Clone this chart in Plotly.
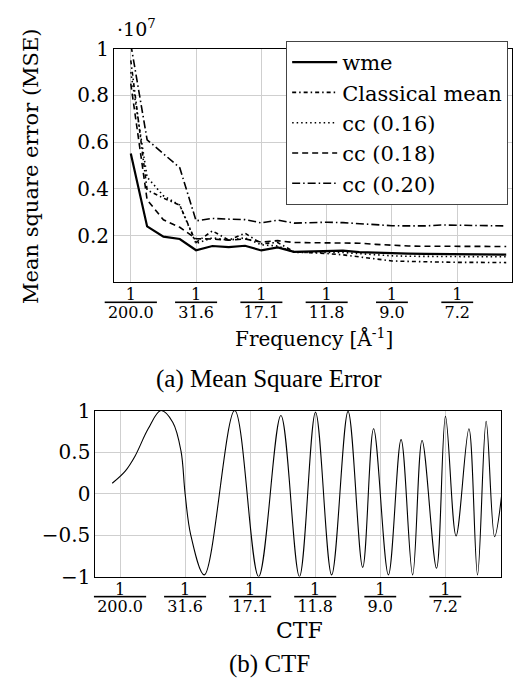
import plotly.graph_objects as go

W, H = 517, 686
FONT = "DejaVu Serif"
CAPFONT = "Liberation Serif"

# ---------------- data: (a) Mean Square Error (values in units of 1e7) ----------------
shell = list(range(24))
wme = [0.551, 0.239, 0.195, 0.185, 0.137, 0.155, 0.150, 0.156, 0.136, 0.149, 0.130, 0.131,
       0.132, 0.135, 0.129, 0.126, 0.123, 0.122, 0.121, 0.120, 0.120, 0.119, 0.119, 0.118]
classical = [0.95, 0.395, 0.36, 0.33, 0.17, 0.22, 0.18, 0.21, 0.165, 0.17, 0.13, 0.128,
             0.123, 0.117, 0.109, 0.098, 0.091, 0.089, 0.087, 0.086, 0.085, 0.085, 0.084, 0.084]
cc16 = [0.90, 0.45, 0.37, 0.33, 0.165, 0.19, 0.18, 0.19, 0.16, 0.155, 0.128, 0.126,
        0.127, 0.127, 0.122, 0.118, 0.113, 0.111, 0.110, 0.110, 0.109, 0.109, 0.109, 0.109]
cc18 = [0.85, 0.353, 0.267, 0.235, 0.186, 0.185, 0.18, 0.185, 0.172, 0.178, 0.17, 0.17,
        0.17, 0.17, 0.167, 0.162, 0.157, 0.155, 0.154, 0.154, 0.153, 0.153, 0.153, 0.153]
cc20 = [1.02, 0.61, 0.55, 0.49, 0.263, 0.273, 0.270, 0.268, 0.254, 0.266, 0.253, 0.255,
        0.257, 0.255, 0.250, 0.245, 0.242, 0.241, 0.241, 0.245, 0.245, 0.243, 0.242, 0.241]

series_names = ["wme", "Classical mean", "cc (0.16)", "cc (0.18)", "cc (0.20)"]

# x tick labels (shell index -> 1/resolution)
tick_pos = [0, 4, 8, 12, 16, 20]
tick_nums = ["1", "1", "1", "1", "1", "1"]
tick_denoms = ["200.0", "31.6", "17.1", "11.8", "9.0", "7.2"]

mse_yticks = [0.2, 0.4, 0.6, 0.8, 1.0]
mse_yticklabels = ["0.2", "0.4", "0.6", "0.8", "1"]

# ---------------- data: (b) CTF (read extrema / shape points) ----------------
ctf_x = [-0.48, 0.32, 0.92, 1.73, 2.51, 3.24, 3.75, 4.0, 4.35, 5.18, 7.05, 8.52, 9.89,
         11.03, 12.02, 13.01, 14.02, 14.92, 15.59, 16.5, 17.28, 17.99, 18.57, 19.46,
         20.01, 20.66, 21.45, 21.98, 22.51, 23.03, 23.47]
ctf_y = [0.124, 0.27, 0.45, 0.78, 1.0, 0.86, 0.51, 0.0, -0.5, -0.98, 1.0, -1.0, 0.94,
         -1.0, 0.98, -0.98, 0.99, -0.89, 0.78, -0.98, 0.65, -0.98, 0.64, -0.90,
         0.93, -0.51, 0.78, -0.98, 0.87, -0.52, -0.01]
ctf_yticks = [-1, -0.5, 0, 0.5, 1]
ctf_yticklabels = ["\u22121", "\u22120.5", "0", "0.5", "1"]

# ---------------- layout geometry (pixels) ----------------
A = dict(l=107, r=512, t=38, b=280)
B = dict(l=88, r=501, t=413, b=585)
XR_A = [-1.02, 23.36]
XR_B = [-1.51, 23.44]


def px_x(p):
    return p / W


def px_y(p):
    return 1 - p / H


def overlined(d):
    return "<span style='text-decoration:overline'>\u2009" + d + "\u2009</span>"


fig = go.Figure()

styles = [
    dict(color="black", width=2.2, dash="solid"),
    dict(color="black", width=1.6, dash="4px,3px,1.5px,3px"),
    dict(color="black", width=1.6, dash="1.5px,3px"),
    dict(color="black", width=1.6, dash="6px,4px"),
    dict(color="black", width=1.6, dash="8px,3px,1.5px,3px"),
]
for name, ys, st in zip(series_names, [wme, classical, cc16, cc18, cc20], styles):
    fig.add_trace(go.Scatter(x=shell, y=ys, mode="lines", name=name, line=st,
                             xaxis="x", yaxis="y"))

fig.add_trace(go.Scatter(x=ctf_x, y=ctf_y, mode="lines",
                         line=dict(color="black", width=1.1, shape="spline", smoothing=1.0),
                         showlegend=False, xaxis="x2", yaxis="y2"))

# empty traces so the numerator (overlay) axes are drawn
fig.add_trace(go.Scatter(x=[], y=[], xaxis="x3", yaxis="y", showlegend=False,
                         hoverinfo="skip"))
fig.add_trace(go.Scatter(x=[], y=[], xaxis="x4", yaxis="y2", showlegend=False,
                         hoverinfo="skip"))

GRID = "#cfcfcf"
axcommon = dict(showline=True, mirror=True, linecolor="black", linewidth=1.2,
                showgrid=True, gridcolor=GRID, gridwidth=1, zeroline=False, ticks="")
numaxis = dict(showline=False, showgrid=False, zeroline=False, ticks="", side="bottom",
               tickvals=tick_pos, ticktext=tick_nums,
               tickfont=dict(family=FONT, size=16), ticklabelstandoff=1)
DEN_STANDOFF = 15

fig.update_layout(
    width=W, height=H, margin=dict(l=0, r=0, t=0, b=0),
    paper_bgcolor="white", plot_bgcolor="white",
    font=dict(family=FONT, color="black", size=20),
    xaxis=dict(domain=[px_x(A["l"]), px_x(A["r"])], range=XR_A,
               tickvals=tick_pos, ticktext=[overlined(d) for d in tick_denoms],
               tickfont=dict(family=FONT, size=16), ticklabelstandoff=DEN_STANDOFF,
               anchor="y", **axcommon),
    xaxis3=dict(overlaying="x", anchor="y", range=XR_A, **numaxis),
    yaxis=dict(domain=[px_y(A["b"]), px_y(A["t"])], range=[0, 1],
               tickvals=mse_yticks, ticktext=mse_yticklabels,
               tickfont=dict(family=FONT, size=20), anchor="x", **axcommon),
    xaxis2=dict(domain=[px_x(B["l"]), px_x(B["r"])], range=XR_B,
                tickvals=tick_pos, ticktext=[overlined(d) for d in tick_denoms],
                tickfont=dict(family=FONT, size=16), ticklabelstandoff=DEN_STANDOFF,
                anchor="y2", **axcommon),
    xaxis4=dict(overlaying="x2", anchor="y2", range=XR_B, **numaxis),
    yaxis2=dict(domain=[px_y(B["b"]), px_y(B["t"])], range=[-1, 1],
                tickvals=ctf_yticks, ticktext=ctf_yticklabels,
                tickfont=dict(family=FONT, size=20), anchor="x2", **axcommon),
    legend=dict(x=px_x(508), xanchor="right", y=px_y(30), yanchor="top",
                bgcolor="white", bordercolor="#444444", borderwidth=1,
                font=dict(family=FONT, size=21), tracegroupgap=0, itemwidth=45),
    showlegend=True,
)

ann = [
    dict(text="\u00b710<sup>7</sup>", x=px_x(108), y=px_y(17), xanchor="left",
         yanchor="middle", font=dict(family=FONT, size=19)),
    dict(text="Mean square error (MSE)", x=px_x(23), y=px_y(160), textangle=-90,
         xanchor="center", yanchor="middle", font=dict(family=FONT, size=21)),
    dict(text="Frequency [\u00c5<sup>-1</sup>]", x=px_x(310), y=px_y(338),
         xanchor="center", yanchor="middle", font=dict(family=FONT, size=20)),
    dict(text="(a) Mean Square Error", x=px_x(265), y=px_y(380),
         xanchor="center", yanchor="middle", font=dict(family=CAPFONT, size=25)),
    dict(text="CTF", x=px_x(296), y=px_y(641), xanchor="center", yanchor="middle",
         font=dict(family=FONT, size=22)),
    dict(text="(b) CTF", x=px_x(265), y=px_y(676), xanchor="center", yanchor="middle",
         font=dict(family=CAPFONT, size=25)),
]
for a in ann:
    fig.add_annotation(xref="paper", yref="paper", showarrow=False, **a)

fig.write_html("out.html")
